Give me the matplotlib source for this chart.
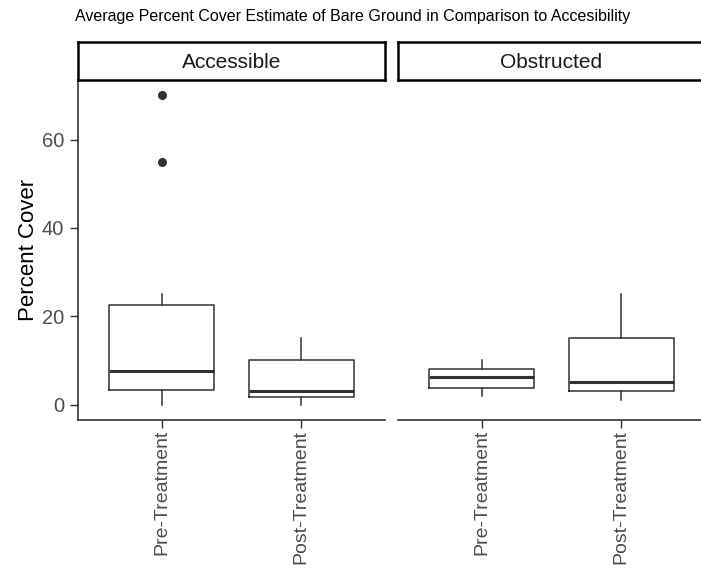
import matplotlib.pyplot as plt

plt.rcParams['font.family'] = ['Liberation Sans', 'DejaVu Sans']

# Box summary stats per panel (Pre-Treatment, Post-Treatment)
panels = ["Accessible", "Obstructed"]
treatments = ["Pre-Treatment", "Post-Treatment"]
whislo = {"Accessible": [0, 0], "Obstructed": [2, 1]}
q1 = {"Accessible": [3.25, 1.75], "Obstructed": [3.75, 3]}
med = {"Accessible": [7.5, 3], "Obstructed": [6.25, 5]}
q3 = {"Accessible": [22.5, 10], "Obstructed": [8, 15]}
whishi = {"Accessible": [25, 15], "Obstructed": [10, 25]}
fliers = {"Accessible": [[70, 55], []], "Obstructed": [[], []]}

W, H = 701, 571
fig = plt.figure(figsize=(W / 100, H / 100), dpi=100)

fig.text(75 / W, 1 - 16 / H, "Average Percent Cover Estimate of Bare Ground in Comparison to Accesibility",
         fontsize=11.5, ha='left', va='center', color='black')

line_col = '#333333'
lefts = [78, 398]
pw = 307
ptop, pbot = 80, 420
stop = 42

for i, name in enumerate(panels):
    ax = fig.add_axes([lefts[i] / W, 1 - pbot / H, pw / W, (pbot - ptop) / H])
    stats = []
    for j, t in enumerate(treatments):
        stats.append(dict(label=t, whislo=whislo[name][j], q1=q1[name][j], med=med[name][j],
                          q3=q3[name][j], whishi=whishi[name][j], fliers=fliers[name][j]))
    ax.bxp(stats, positions=[1, 2], widths=0.75, showcaps=False,
           boxprops=dict(color=line_col, linewidth=1.1),
           whiskerprops=dict(color=line_col, linewidth=1.1),
           medianprops=dict(color=line_col, linewidth=2.2),
           flierprops=dict(marker='o', markerfacecolor=line_col, markeredgecolor=line_col,
                           markersize=5.5))
    ax.set_xlim(0.4, 2.6)
    ax.set_ylim(-3.5, 73.5)
    ax.set_xticks([1, 2])
    ax.set_xticklabels(treatments, rotation=90, ha='center', va='top', fontsize=14, color='#4D4D4D')
    for s in ['top', 'right']:
        ax.spines[s].set_visible(False)
    ax.spines['bottom'].set_color(line_col)
    ax.spines['bottom'].set_linewidth(1.2)
    ax.tick_params(axis='x', length=5.5, width=1, color=line_col, pad=1.5)
    if i == 0:
        ax.set_yticks([0, 20, 40, 60])
        ax.tick_params(axis='y', length=6, width=1, color=line_col, labelsize=14.5,
                       labelcolor='#4D4D4D', pad=4)
        ax.spines['left'].set_color(line_col)
        ax.spines['left'].set_linewidth(1.2)
        ax.set_ylabel("Percent Cover", fontsize=16, color='black', labelpad=2)
    else:
        ax.spines['left'].set_visible(False)
        ax.set_yticks([])

    # facet strip
    sax = fig.add_axes([lefts[i] / W, 1 - ptop / H, pw / W, (ptop - stop) / H])
    sax.set_xticks([])
    sax.set_yticks([])
    for s in sax.spines.values():
        s.set_color('black')
        s.set_linewidth(1.8)
    sax.text(0.5, 0.47, name, ha='center', va='center', fontsize=15, color='#1A1A1A',
             transform=sax.transAxes)

fig.savefig("out.png", dpi=100)
